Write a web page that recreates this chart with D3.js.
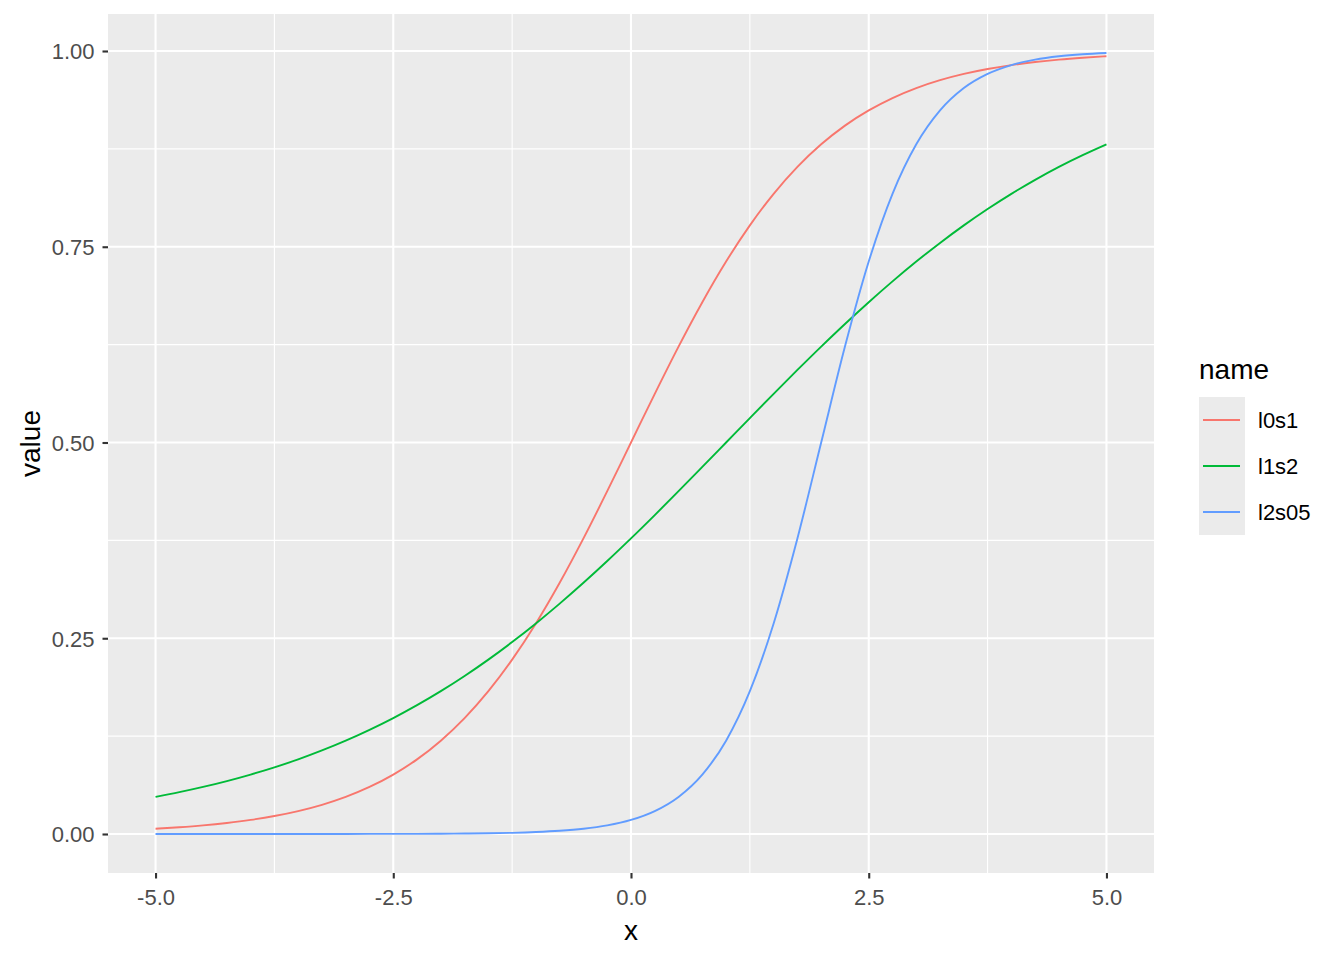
<!DOCTYPE html>
<html><head><meta charset="utf-8">
<script src="https://cdn.jsdelivr.net/npm/d3@7"></script>
<style>body{margin:0;background:#fff}</style>
</head><body>
<svg id="c" width="1344" height="960"></svg>
<script>
const xs = [-5,-4.75,-4.5,-4.25,-4,-3.75,-3.5,-3.25,-3,-2.75,-2.5,-2.25,-2,-1.75,-1.5,-1.25,-1,-0.75,-0.5,-0.25,0,0.25,0.5,0.75,1,1.25,1.5,1.75,2,2.25,2.5,2.75,3,3.25,3.5,3.75,4,4.25,4.5,4.75,5];
const l0s1 = [0.0067,0.0086,0.0110,0.0141,0.0180,0.0230,0.0293,0.0373,0.0474,0.0601,0.0759,0.0953,0.1192,0.1480,0.1824,0.2227,0.2689,0.3208,0.3775,0.4378,0.5,0.5622,0.6225,0.6792,0.7311,0.7773,0.8176,0.8520,0.8808,0.9047,0.9241,0.9399,0.9526,0.9627,0.9707,0.9770,0.9820,0.9859,0.9890,0.9914,0.9933];
const l1s2 = [0.0474,0.0534,0.0601,0.0676,0.0759,0.0851,0.0953,0.1067,0.1192,0.1330,0.1480,0.1645,0.1824,0.2018,0.2227,0.2451,0.2689,0.2942,0.3208,0.3486,0.3775,0.4073,0.4378,0.4688,0.5,0.5312,0.5622,0.5927,0.6225,0.6514,0.6792,0.7058,0.7311,0.7549,0.7773,0.7982,0.8176,0.8355,0.8520,0.8670,0.8808];
const l2s05 = [0,0,0,0,0,0,0,0,0,0.0001,0.0001,0.0002,0.0003,0.0006,0.0009,0.0015,0.0025,0.0041,0.0067,0.0110,0.0180,0.0293,0.0474,0.0759,0.1192,0.1824,0.2689,0.3775,0.5,0.6225,0.7311,0.8176,0.8808,0.9241,0.9526,0.9707,0.9820,0.9890,0.9933,0.9959,0.9975];
const seriesNames = ["l0s1","l1s2","l2s05"];
const seriesColors = ["#F8766D","#00BA38","#619CFF"];
const seriesValues = [l0s1,l1s2,l2s05];
const xTicks = [-5,-2.5,0,2.5,5];
const xTickLabels = ["-5.0","-2.5","0.0","2.5","5.0"];
const yTicks = [0,0.25,0.5,0.75,1];
const yTickLabels = ["0.00","0.25","0.50","0.75","1.00"];
const xMinor = [-3.75,-1.25,1.25,3.75];
const yMinor = [0.125,0.375,0.625,0.875];

const svg = d3.select("#c");
const L=108, R=1154, T=14, B=873;
const x = d3.scaleLinear().domain([-5.5,5.5]).range([L,R]);
const y = d3.scaleLinear().domain([0,1]).range([834,51]);
const font = "'Liberation Sans', Arial, sans-serif";
const tickFs = "22px", titleFs = "28px";

svg.append("rect").attr("x",L).attr("y",T).attr("width",R-L).attr("height",B-T).attr("fill","#EBEBEB");
const g = svg.append("g");
xMinor.forEach(v=>g.append("line").attr("x1",x(v)).attr("x2",x(v)).attr("y1",T).attr("y2",B).attr("stroke","#fff").attr("stroke-width",1.1));
yMinor.forEach(v=>g.append("line").attr("y1",y(v)).attr("y2",y(v)).attr("x1",L).attr("x2",R).attr("stroke","#fff").attr("stroke-width",1.1));
xTicks.forEach(v=>g.append("line").attr("x1",x(v)).attr("x2",x(v)).attr("y1",T).attr("y2",B).attr("stroke","#fff").attr("stroke-width",2.1));
yTicks.forEach(v=>g.append("line").attr("y1",y(v)).attr("y2",y(v)).attr("x1",L).attr("x2",R).attr("stroke","#fff").attr("stroke-width",2.1));

const line = d3.line().curve(d3.curveMonotoneX);
seriesValues.forEach((vals,i)=>{
  svg.append("path").attr("d", line(xs.map((xv,j)=>[x(xv),y(vals[j])])))
    .attr("fill","none").attr("stroke",seriesColors[i]).attr("stroke-width",1.9);
});

// axes
const xAxis = d3.axisBottom(x).tickValues(xTicks).tickFormat((d,i)=>xTickLabels[i]).tickSize(5.5).tickPadding(4);
const gx = svg.append("g").attr("transform",`translate(0,${B})`).call(xAxis);
gx.select(".domain").remove();
gx.selectAll(".tick line").attr("stroke","#333").attr("stroke-width",2.1);
gx.selectAll(".tick text").attr("fill","#4D4D4D").style("font-family",font).style("font-size",tickFs).attr("y",32).attr("dy","0");

const yAxis = d3.axisLeft(y).tickValues(yTicks).tickFormat((d,i)=>yTickLabels[i]).tickSize(5.5).tickPadding(4);
const gy = svg.append("g").attr("transform",`translate(${L},0)`).call(yAxis);
gy.select(".domain").remove();
gy.selectAll(".tick line").attr("stroke","#333").attr("stroke-width",2.1);
gy.selectAll(".tick text").attr("fill","#4D4D4D").style("font-family",font).style("font-size",tickFs).attr("x",-13.5).attr("dy","0.36em");

svg.append("text").attr("x",(L+R)/2).attr("y",940).attr("text-anchor","middle").style("font-family",font).style("font-size",titleFs).attr("fill","#000").text("x");
svg.append("text").attr("transform",`translate(40,${(T+B)/2}) rotate(-90)`).attr("text-anchor","middle").style("font-family",font).style("font-size",titleFs).attr("fill","#000").text("value");

// legend
const lg = svg.append("g");
lg.append("text").attr("x",1199).attr("y",379).style("font-family",font).style("font-size",titleFs).attr("fill","#000").text("name");
seriesNames.forEach((n,i)=>{
  const cy = 420 + i*46;
  lg.append("rect").attr("x",1199).attr("y",cy-23).attr("width",46).attr("height",46).attr("fill","#EBEBEB");
  lg.append("line").attr("x1",1203).attr("x2",1240).attr("y1",cy).attr("y2",cy).attr("stroke",seriesColors[i]).attr("stroke-width",2);
  lg.append("text").attr("x",1258).attr("y",cy).attr("dy","0.36em").style("font-family",font).style("font-size",tickFs).attr("fill","#000").text(n);
});
</script>
</body></html>
